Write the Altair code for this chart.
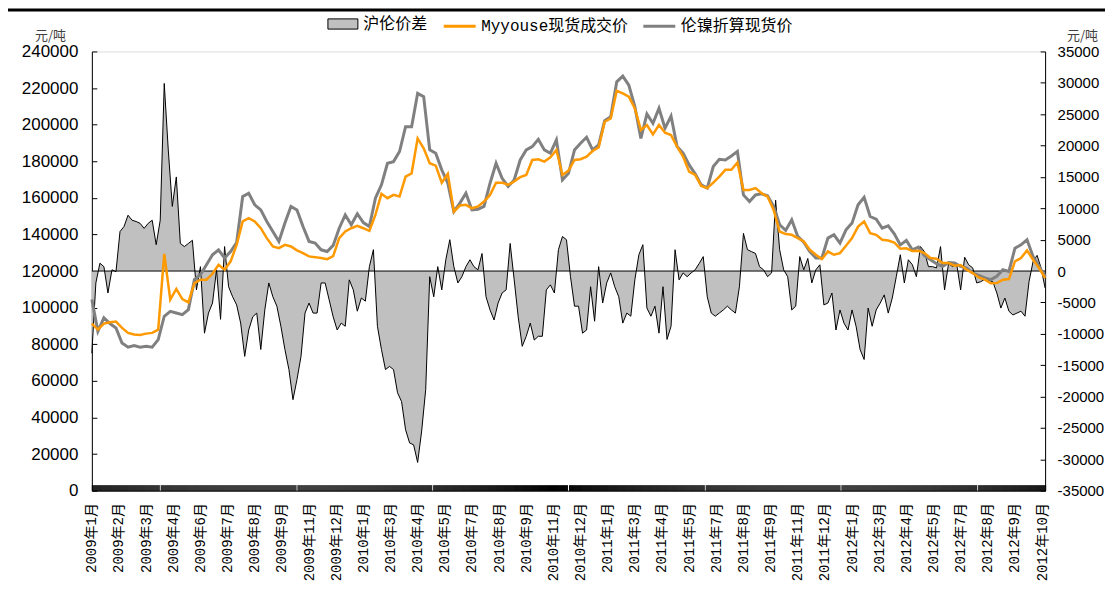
import json
import altair as alt
import pandas as pd

# ---------------- data ----------------
NAME_SPREAD = "沪伦价差"
NAME_MYY = "Myyouse现货成交价"
NAME_LME = "伦镍折算现货价"

X_LABELS = ["2009年1月", "2009年2月", "2009年3月", "2009年4月", "2009年6月", "2009年7月",
            "2009年8月", "2009年9月", "2009年11月", "2009年12月",
            "2010年1月", "2010年3月", "2010年4月", "2010年5月", "2010年7月", "2010年8月",
            "2010年9月", "2010年11月", "2010年12月",
            "2011年1月", "2011年3月", "2011年4月", "2011年5月", "2011年7月", "2011年8月",
            "2011年9月", "2011年11月", "2011年12月",
            "2012年1月", "2012年3月", "2012年4月", "2012年5月", "2012年7月", "2012年8月",
            "2012年9月", "2012年10月"]
LABEL_STEP = 27          # trading days between category labels
N_DAYS = 948             # last trading-day index
LINE_STEP = 6            # sampling step (days) of the two price lines
SPREAD_STEP = 4          # sampling step (days) of the spread series

MYYOUSE = [
    91300, 88000, 91300, 92000, 92400, 88900, 86200, 85300, 85100, 85800,
    86200, 88000, 129400, 104400, 110200, 104700, 102900, 113400, 115300, 115300,
    118500, 123400, 120700, 125300, 134300, 147100, 148900, 147100, 143400, 138000,
    133400, 132500, 134300, 133400, 131300, 129800, 128000, 127600, 127100, 126500,
    128200, 138000, 141600, 143400, 144700, 143400, 142000, 150700, 162200, 159800,
    161600, 160700, 171600, 173400, 192500, 187100, 178900, 177600, 168300, 173100,
    152500, 155800, 156200, 154300, 155300, 158000, 161600, 168300, 168300, 167100,
    168900, 171300, 172500, 180700, 181100, 179800, 182200, 186200, 172500, 174900,
    180700, 181100, 182500, 185600, 187600, 201600, 203400, 218500, 217100, 215300,
    208900, 197100, 199800, 194700, 199800, 195600, 194300, 188000, 182500, 174300,
    172500, 166500, 165300, 168300, 171600, 175300, 175300, 179300, 164300, 164300,
    165300, 162500, 160700, 153400, 141600, 140200, 139800, 138000, 136200, 131600,
    128900, 126500, 130700, 128900, 129800, 133800, 138000, 144300, 147100, 140700,
    139800, 137100, 136700, 135600, 132200, 132400, 130900, 131100, 129800, 127100,
    126700, 124400, 124400, 122900, 123300, 120700, 118900, 116500, 115300, 113300,
    113400, 115300, 115600, 125300, 127100, 131300, 126200, 121600, 116200,
]

LME = [
    104400, 87100, 94400, 91300, 88900, 80700, 78400, 79300, 78400, 78900,
    78400, 82500, 95300, 98000, 97100, 96200, 98900, 115300, 118000, 123400,
    128900, 131600, 127100, 130700, 135600, 160700, 162500, 156200, 153400, 147100,
    141600, 136200, 146200, 155300, 153400, 144300, 136200, 135300, 131600, 130700,
    134000, 143400, 150700, 145300, 151300, 146500, 144300, 159800, 167100, 178900,
    179800, 185300, 198900, 198900, 217100, 215300, 186200, 184400, 175300, 168000,
    152500, 157100, 162500, 153400, 153800, 155300, 168000, 178900, 170700, 166200,
    169800, 180700, 186200, 188000, 192000, 186200, 184400, 191600, 169800, 173400,
    186200, 189800, 193100, 186200, 188900, 202200, 204300, 223400, 226500, 221600,
    209800, 192500, 205800, 200700, 208900, 198000, 204700, 188000, 184400, 178000,
    173100, 167100, 165300, 177100, 181100, 180700, 182900, 185300, 161600, 158000,
    161600, 162200, 161100, 155300, 145300, 142200, 148000, 138900, 135800, 130700,
    127100, 127100, 138000, 139800, 135300, 142500, 146200, 156200, 160300, 149800,
    148300, 143400, 144700, 140300, 134300, 136700, 131600, 133100, 128400, 126200,
    124000, 122500, 124700, 124400, 122500, 121600, 118900, 117600, 116200, 115300,
    117100, 120700, 119800, 132500, 134300, 137100, 128000, 122500, 117100,
]

SPREAD = [
    -13100, -1900, 1250, 700, -3500, 200, -100, 6300, 7100, 8900,
    8100, 7900, 7600, 6800, 7600, 8100, 4200, 8100, 29900, 19300,
    10300, 15000, 4400, 3900, 4400, 4900, -3000, 700, -9900, -6700,
    -5100, 200, -7700, 3900, -2500, -4100, -5400, -8300, -13600, -9400,
    -7300, -6700, -12500, -6200, -1900, -4100, -5600, -8800, -12500, -15700,
    -20500, -17300, -13600, -6700, -5100, -6700, -6700, -1900, -1900, -4600,
    -7300, -9400, -8300, -8800, -1400, -3000, -6400, -4300, -4800, 700,
    3400, -8800, -12500, -15700, -15200, -15700, -19400, -20800, -25300, -27400,
    -27700, -30500, -25500, -18900, -900, -4100, 700, -3000, 1800, 5000,
    700, -1900, -900, 700, 1800, 700, 200, 2800, -4100, -6200,
    -7800, -5100, -3500, -3000, 4400, -1400, -7300, -12000, -10400, -8300,
    -11000, -10400, -10400, -3000, -2200, -3500, 3400, 5500, 5000, -900,
    -5600, -5600, -9900, -9400, -2500, -8000, 700, -5100, -1900, -300,
    -2500, -4100, -8300, -6700, -7200, -1400, 2600, 4200, -5900, -7200,
    -5600, -9900, -2500, -10900, -8800, 3400, -1400, -300, -900, -300,
    200, 1200, 2300, -4100, -6700, -7200, -6700, -6200, -5600, -6200,
    -6700, -2500, 6000, 3400, 3100, 2800, 700, 200, -900, -300,
    11300, 3400, 200, -900, -6200, -5600, 2300, 200, 2000, -1900,
    200, 1000, -5400, -5100, -3500, -9400, -6200, -8300, -9400, -6200,
    -8800, -12500, -14100, -5900, -8800, -6200, -5100, -3800, -6700, -4300,
    -900, 2600, -1900, 1800, 1000, -900, 3900, 3100, 700, 700,
    500, 3900, -3000, 1200, 700, 1200, -3000, 2200, 1000, 500,
    -1900, -1700, -1300, -1500, -1700, -3500, -5900, -4300, -6400, -7000,
    -6700, -6400, -7200, -1700, 1500, 2500, 500, -2700,
]

PRICE_TICKS = list(range(0, 240001, 20000))
SPREAD_TICKS = list(range(-35000, 35001, 5000))

# ---------------- tables ----------------
myy_df = pd.DataFrame({"day": [i * LINE_STEP for i in range(len(MYYOUSE))],
                       "value": MYYOUSE, "series": NAME_MYY})
lme_df = pd.DataFrame({"day": [i * LINE_STEP for i in range(len(LME))],
                       "value": LME, "series": NAME_LME})
spread_df = pd.DataFrame({"day": [i * SPREAD_STEP for i in range(len(SPREAD))],
                          "spread": SPREAD, "series": NAME_SPREAD})
zero_df = pd.DataFrame({"zero": [0]})

# ---------------- styling ----------------
W, H = 955, 440
FONT_NUM = "Liberation Sans, Arial, sans-serif"
FONT_CJK = "Liberation Mono, Noto Sans CJK SC, monospace"
FONT_UNIT = "Noto Sans CJK SC"

x_scale = alt.Scale(domain=[0, N_DAYS], nice=False, zero=False)
price_scale = alt.Scale(domain=[0, 240000], nice=False, zero=False)
spread_scale = alt.Scale(domain=[-35000, 35000], nice=False, zero=False)

spread_axis = alt.Axis(
    orient="right", values=SPREAD_TICKS, ticks=False, tickSize=0, labelPadding=12,
    labelExpr="toString(datum.value)", labelFont=FONT_NUM, labelFontSize=15,
    labelColor="black", domain=True, domainColor="black", domainWidth=1, grid=False,
    title="元/吨", titleAngle=0, titleX=37, titleY=-16, titleAlign="center",
    titleBaseline="middle", titleFont=FONT_UNIT, titleFontSize=13,
    titleFontWeight="normal", titleColor="#404040",
)
price_axis = alt.Axis(
    orient="left", values=PRICE_TICKS, ticks=False, tickSize=0, labelPadding=14,
    format="d", labelFont=FONT_NUM, labelFontSize=17, labelColor="black",
    domain=True, domainColor="black", domainWidth=1, grid=False,
    title="元/吨", titleAngle=0, titleX=-42, titleY=-16, titleAlign="center",
    titleBaseline="middle", titleFont=FONT_UNIT, titleFontSize=13,
    titleFontWeight="normal", titleColor="#404040",
)
label_expr = f"{json.dumps(X_LABELS, ensure_ascii=False)}[round(datum.value / {LABEL_STEP})]"
x_label_axis = alt.Axis(
    orient="bottom", values=[LABEL_STEP * i for i in range(len(X_LABELS))],
    labelExpr=label_expr, labelAngle=-90, labelAlign="right", labelBaseline="middle",
    labelFont=FONT_CJK, labelFontSize=14, labelColor="black", labelPadding=12,
    labelOverlap=False, labelFlush=False, labelBound=False,
    ticks=False, tickSize=0, domain=True, domainColor="black", domainWidth=1,
    grid=False, title=None,
)

# ---------------- right-axis group: spread ----------------
area = alt.Chart(spread_df).mark_area().encode(
    x=alt.X("day:Q", scale=x_scale, axis=None),
    y=alt.Y("spread:Q", scale=spread_scale, axis=spread_axis),
    y2=alt.datum(0),
    fill=alt.Fill("series:N", scale=alt.Scale(domain=[NAME_SPREAD], range=["#C0C0C0"]),
                  legend=alt.Legend(
                      title=None, orient="none", legendX=236, legendY=-43,
                      symbolType="M-1,-0.34H1V0.34H-1Z", symbolSize=900,
                      symbolStrokeColor="black", symbolStrokeWidth=1,
                      labelFont=FONT_CJK, labelFontSize=16, labelColor="black",
                      labelOffset=5)),
)
spread_line = alt.Chart(spread_df).mark_line(color="black", strokeWidth=1).encode(
    x=alt.X("day:Q", scale=x_scale, axis=None),
    y=alt.Y("spread:Q", scale=spread_scale, axis=spread_axis),
)
zero_rule = alt.Chart(zero_df).mark_rule(color="black", strokeWidth=1).encode(
    y=alt.Y("zero:Q", scale=spread_scale, axis=spread_axis),
)
right_group = alt.layer(area, spread_line, zero_rule)

# ---------------- left-axis group: prices ----------------
color_scale = alt.Scale(domain=[NAME_MYY, NAME_LME], range=["#FF9900", "#808080"])
line_legend = alt.Legend(
    title=None, orient="none", legendX=351, legendY=-43, direction="horizontal",
    symbolType="stroke", symbolSize=1024, symbolStrokeWidth=3,
    labelFont=FONT_CJK, labelFontSize=16, labelColor="black", labelOffset=4,
    columnPadding=8,
)
lme_line = alt.Chart(lme_df).mark_line(strokeWidth=3).encode(
    x=alt.X("day:Q", scale=x_scale, axis=x_label_axis),
    y=alt.Y("value:Q", scale=price_scale, axis=price_axis),
    color=alt.Color("series:N", scale=color_scale, legend=line_legend),
)
myy_line = alt.Chart(myy_df).mark_line(strokeWidth=2.5).encode(
    x=alt.X("day:Q", scale=x_scale, axis=x_label_axis),
    y=alt.Y("value:Q", scale=price_scale, axis=price_axis),
    color=alt.Color("series:N", scale=color_scale, legend=line_legend),
)
top_frame = alt.Chart(zero_df).mark_rule(color="black", strokeWidth=3).encode(
    x=alt.value(-84), x2=alt.value(W + 60), y=alt.value(-41.5),
)
left_group = alt.layer(lme_line, myy_line, top_frame)

# ---------------- inward tick marks (extra axes) ----------------
tick_left = alt.Chart(lme_df).mark_line(opacity=0).encode(
    x=alt.X("day:Q", scale=x_scale, axis=None),
    y=alt.Y("value:Q", scale=price_scale,
            axis=alt.Axis(orient="right", offset=-W, values=PRICE_TICKS, ticks=True,
                          tickSize=5, tickColor="black", labels=False, domain=False,
                          grid=False, title=None)),
)
tick_right = alt.Chart(spread_df).mark_line(opacity=0).encode(
    x=alt.X("day:Q", scale=x_scale, axis=None),
    y=alt.Y("spread:Q", scale=spread_scale,
            axis=alt.Axis(orient="left", offset=-W, values=SPREAD_TICKS, ticks=True,
                          tickSize=5, tickColor="black", labels=False, domain=False,
                          grid=False, title=None)),
)
tick_x = alt.Chart(spread_df).mark_point(opacity=0).encode(
    x=alt.X("day:Q", scale=x_scale,
            axis=alt.Axis(orient="top", offset=-H, values=list(range(0, N_DAYS + 1)),
                          ticks=True, tickSize=6, tickColor="black", tickWidth=1,
                          labels=False, domain=False, grid=False, title=None)),
)

chart = alt.layer(right_group, left_group, tick_left, tick_right, tick_x).resolve_scale(
    y="independent", x="independent"
).properties(
    width=W, height=H,
    autosize=alt.AutoSizeParams(type="none"),
    padding={"left": 84, "top": 43, "right": 60, "bottom": 92},
).configure_view(stroke=None).configure(background="white")

chart.save("out.html", embed_options={"renderer": "svg", "actions": False})
